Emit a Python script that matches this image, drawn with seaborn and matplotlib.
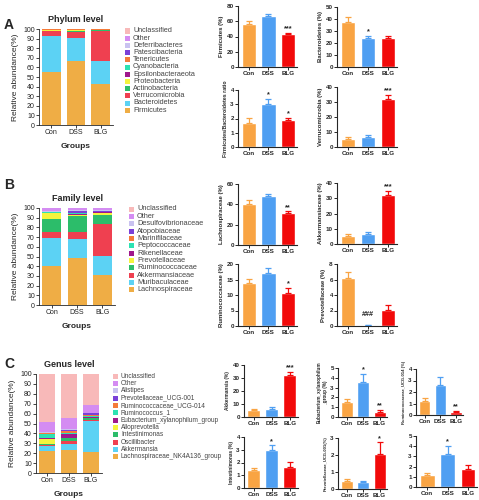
import numpy as np
import matplotlib
matplotlib.use("Agg")
import matplotlib.pyplot as plt
from matplotlib.patches import Rectangle
import seaborn as sns

W, H = 479, 500

groups = ["Con", "DSS", "BLG"]
bar_colors = ["#F9A443", "#4F9FF2", "#F20A0A"]

# ---- stacked composition data (bottom -> top) ----
phylum_names = ["Firmicutes", "Bacteroidetes", "Verrucomicrobia", "Actinobacteria",
                "Proteobacteria", "Epsilonbacteraeota", "Cyanobacteria", "Tenericutes",
                "Patescibacteria", "Deferribacteres", "Other", "Unclassified"]
phylum_con = [55.5, 37.5, 4.8, 0.6, 0.8, 0.1, 0.1, 0.2, 0.05, 0.1, 0.15, 0.1]
phylum_dss = [66.5, 24.0, 6.5, 0.8, 1.2, 0.1, 0.1, 0.3, 0.1, 0.1, 0.2, 0.1]
phylum_blg = [43.0, 23.5, 31.5, 1.0, 0.3, 0.05, 0.05, 0.2, 0.05, 0.1, 0.15, 0.1]

family_names = ["Lachnospiraceae", "Muribaculaceae", "Akkermansiaceae", "Ruminococcaceae",
                "Prevotellaceae", "Rikenellaceae", "Peptococcaceae", "Marinifilaceae",
                "Atopobiaceae", "Desulfovibrionaceae", "Other", "Unclassified"]
family_con = [40.0, 29.0, 6.0, 13.5, 6.0, 0.5, 0.5, 0.3, 0.5, 1.0, 2.5, 0.2]
family_dss = [48.0, 20.5, 6.5, 17.0, 0.5, 1.0, 1.0, 0.5, 1.5, 1.0, 2.3, 0.2]
family_blg = [31.0, 20.0, 32.0, 10.0, 2.0, 0.5, 0.5, 0.3, 0.7, 0.8, 2.0, 0.2]

genus_names = ["Lachnospiraceae_NK4A136_group", "Akkermansia", "Oscillibacter",
               "Intestinimonas", "Alloprevotella", "Eubacterium_xylanophilum_group",
               "Ruminococcus_1", "Ruminococcaceae_UCG-014", "Prevotellaceae_UCG-001",
               "Alistipes", "Other", "Unclassified"]
genus_con = [22.0, 5.5, 0.8, 1.2, 4.5, 1.5, 3.5, 1.0, 0.5, 1.0, 10.5, 48.0]
genus_dss = [23.0, 6.5, 2.5, 3.0, 0.8, 3.5, 1.0, 2.5, 0.5, 1.5, 11.2, 44.0]
genus_blg = [21.0, 31.5, 1.2, 1.6, 0.5, 0.6, 1.5, 0.3, 2.0, 0.8, 7.5, 31.5]

stack_colors = ["#EFAD45", "#5CD2F4", "#EF4050", "#2CBD6A", "#F4F43E", "#A0188C",
                "#2DE2B2", "#F57B3A", "#7A40D8", "#C9C2F0", "#D48CF2", "#F8B9B9"]

# ---- single-taxon bar data: mean, SEM, significance ----
firm_mean = [56.0, 67.0, 43.0]; firm_err = [4.0, 2.0, 2.0]; firm_sig = ["", "", "***"]
bact_mean = [37.5, 24.0, 24.0]; bact_err = [4.5, 2.0, 2.0]; bact_sig = ["", "*", ""]
fb_mean = [1.7, 3.0, 1.9]; fb_err = [0.35, 0.4, 0.15]; fb_sig = ["", "*", "*"]
verr_mean = [5.5, 6.5, 32.0]; verr_err = [1.0, 1.5, 3.0]; verr_sig = ["", "", "***"]

lach_mean = [40.0, 48.0, 31.0]; lach_err = [4.5, 2.5, 2.0]; lach_sig = ["", "", "**"]
akkf_mean = [5.5, 6.5, 32.0]; akkf_err = [1.0, 1.5, 3.0]; akkf_sig = ["", "", "***"]
rumf_mean = [14.0, 17.0, 10.5]; rumf_err = [1.2, 1.8, 1.8]; rumf_sig = ["", "", "*"]
prev_mean = [6.2, 0.1, 2.1]; prev_err = [0.8, 0.05, 0.6]; prev_sig = ["", "###", ""]

akk_mean = [5.5, 6.5, 32.0]; akk_err = [1.0, 1.5, 3.0]; akk_sig = ["", "", "***"]
eub_mean = [1.5, 3.6, 0.55]; eub_err = [0.35, 0.8, 0.15]; eub_sig = ["", "*", "**"]
rucg_mean = [1.2, 2.6, 0.3]; rucg_err = [0.3, 0.7, 0.07]; rucg_sig = ["", "", "**"]
intes_mean = [1.4, 2.95, 1.65]; intes_err = [0.2, 0.4, 0.4]; intes_sig = ["", "*", ""]
pucg_mean = [0.5, 0.4, 2.05]; pucg_err = [0.1, 0.08, 0.7]; pucg_sig = ["", "", "*"]
rum1_mean = [1.15, 3.2, 1.75]; rum1_err = [0.2, 0.8, 0.4]; rum1_sig = ["", "*", ""]

sns.set_style("ticks")
plt.rcParams["font.family"] = ["Liberation Sans", "DejaVu Sans"]

fig = plt.figure(figsize=(W / 100, H / 100), dpi=100)


def px_axes(x0, y0, x1, y1):
    return fig.add_axes([x0 / W, 1 - y1 / H, (x1 - x0) / W, (y1 - y0) / H])


def stacked(box, title, names, cols, leg, label_groups_y, leg_size):
    ax = px_axes(*box)
    bottoms = np.zeros(3)
    for i, name in enumerate(names):
        vals = np.array([cols[0][i], cols[1][i], cols[2][i]])
        ax.bar(groups, vals, bottom=bottoms, width=0.75, color=stack_colors[i],
               edgecolor="none", label=name)
        bottoms += vals
    ax.set_ylim(0, 100)
    ax.set_xlim(-0.5, 2.5)
    ax.set_yticks(np.arange(0, 101, 10))
    ax.tick_params(labelsize=5, length=2, width=0.6, pad=1, colors="#222222")
    for s in ["top", "right"]:
        ax.spines[s].set_visible(False)
    for s in ["left", "bottom"]:
        ax.spines[s].set_linewidth(0.6)
    ax.set_title(title, fontsize=6.5, fontweight="bold", pad=5)
    ax.set_ylabel("Relative abundance(%)", fontsize=6, labelpad=3)
    fig.text((box[0] + box[2]) / 2 / W, 1 - label_groups_y / H, "Groups",
             fontsize=6, fontweight="bold", ha="center", va="center")
    # legend, top entry = last series
    lx, ly, dy = leg
    for k, i in enumerate(range(len(names) - 1, -1, -1)):
        yc = ly + k * dy
        fig.add_artist(Rectangle((lx / W, 1 - (yc + 2.5) / H), 5 / W, 5 / H,
                                 transform=fig.transFigure, color=stack_colors[i], lw=0))
        fig.text((lx + 8) / W, 1 - yc / H, names[i], fontsize=leg_size,
                 color="#444444", va="center", ha="left")
    return ax


def small(box, mean, err, sig, ymax, step, ylabel, lab_size=4.3):
    ax = px_axes(*box)
    sns.barplot(x=groups, y=mean, hue=groups, palette=bar_colors, saturation=1,
                legend=False, width=0.72, ax=ax)
    for i in range(3):
        ax.errorbar(i, mean[i], yerr=[[0], [err[i]]], color=bar_colors[i],
                    capsize=2, elinewidth=0.9, capthick=0.9, fmt="none")
        if sig[i]:
            off = ymax * 0.01 + (ymax * 0.1 if sig[i].startswith("#") else 0)
            ax.text(i, mean[i] + err[i] + off, sig[i], ha="center", va="bottom",
                    fontsize=5.2, fontweight="bold")
    ax.set_ylim(0, ymax)
    ax.set_xlim(-0.55, 2.45)
    ax.set_yticks(np.arange(0, ymax + step / 2, step))
    ax.tick_params(labelsize=4.5, length=2, width=0.7, pad=1)
    for lab in ax.get_xticklabels() + ax.get_yticklabels():
        lab.set_fontweight("bold")
    for s in ["top", "right"]:
        ax.spines[s].set_visible(False)
    for s in ["left", "bottom"]:
        ax.spines[s].set_linewidth(0.8)
    ax.set_ylabel(ylabel, fontsize=lab_size, fontweight="bold", labelpad=2)
    ax.set_xlabel("")
    return ax


# panel A
stacked((39, 29, 113, 125), "Phylum level", phylum_names,
        [phylum_con, phylum_dss, phylum_blg], (125, 31, 7.2), 147, 5.2)
small((238, 6, 297, 67), firm_mean, firm_err, firm_sig, 80, 20, "Firmicutes (%)")
small((337, 7, 397, 67), bact_mean, bact_err, bact_sig, 50, 10, "Bacteroidetes (%)")
small((238, 90, 297, 147), fb_mean, fb_err, fb_sig, 4, 1,
      "Firmicutes/Bacteroidetes ratio", 3.8)
small((337, 87, 397, 147), verr_mean, verr_err, verr_sig, 40, 10, "Verrucomicrobia (%)")

# panel B
stacked((39, 208, 115, 305), "Family level", family_names,
        [family_con, family_dss, family_blg], (129, 209, 7.36), 327, 5.3)
small((238, 184, 297, 245), lach_mean, lach_err, lach_sig, 60, 20, "Lachnospiraceae (%)")
small((337, 183, 397, 244), akkf_mean, akkf_err, akkf_sig, 40, 10, "Akkermansiaceae (%)")
small((238, 264, 297, 326), rumf_mean, rumf_err, rumf_sig, 20, 5, "Ruminococcaceae (%)")
small((337, 264, 397, 326), prev_mean, prev_err, prev_sig, 8, 2, "Prevotellaceae (%)")

# panel C
stacked((36, 374, 102, 473), "Genus level", genus_names,
        [genus_con, genus_dss, genus_blg], (113, 376, 7.36), 495, 4.7)
small((244, 365, 298, 417), akk_mean, akk_err, akk_sig, 40, 10, "Akkermansia (%)", 3.4)
small((338, 368, 387, 417), eub_mean, eub_err, eub_sig, 5, 1,
      "Eubacterium_xylanophilum\n_group (%)", 3.3)
small((416, 369, 463, 415), rucg_mean, rucg_err, rucg_sig, 4, 1,
      "Ruminococcaceae_UCG-014 (%)", 3.0)
small((244, 437, 298, 488), intes_mean, intes_err, intes_sig, 4, 1, "Intestinimonas (%)", 3.4)
small((338, 438, 387, 489), pucg_mean, pucg_err, pucg_sig, 3, 1,
      "Prevotellaceae_UCG-001(%)", 3.0)
small((416, 436, 477, 487), rum1_mean, rum1_err, rum1_sig, 5, 1, "", 3.0)

for letter, y in [("A", 25), ("B", 185), ("C", 364)]:
    fig.text(4 / W, 1 - y / H, letter, fontsize=10, fontweight="bold", va="center")

fig.savefig("out.png", dpi=100)
